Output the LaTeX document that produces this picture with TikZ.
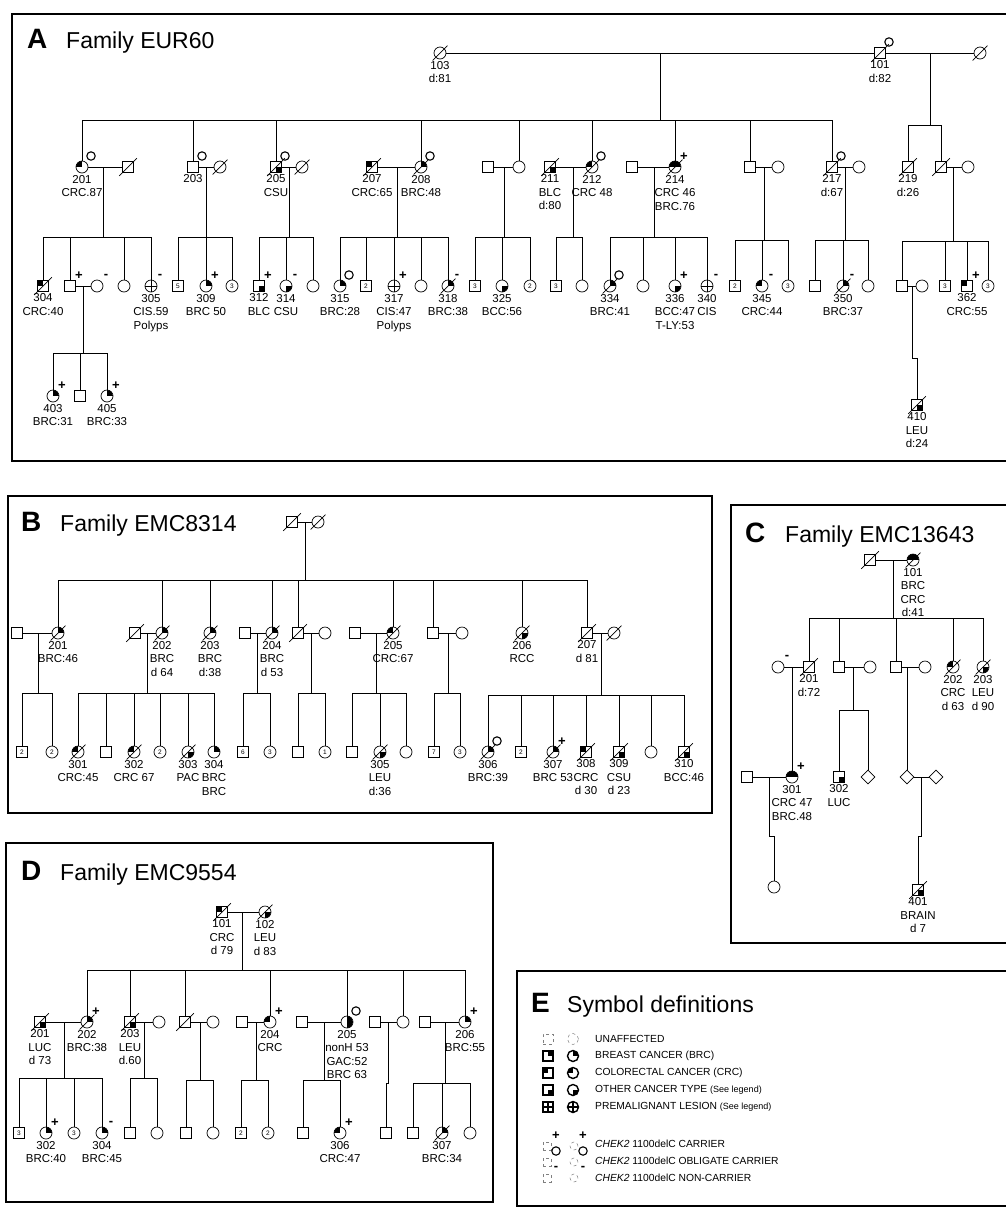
\documentclass[tikz,border=0pt]{standalone}
\usepackage{fontspec}
\setmainfont{Liberation Sans}
\usetikzlibrary{shapes.geometric,calc}
\tikzset{
 pl/.style={line width=0.7pt},
 boxl/.style={line width=1.3pt},
 sym/.style={draw, line width=0.7pt, inner sep=0pt, fill=white},
 msym/.style={sym, rectangle, minimum size=11pt},
 fsym/.style={sym, circle, minimum size=12pt},
 dsym/.style={sym, diamond, minimum size=14pt},
 brc/.style={path picture={\fill[black] (path picture bounding box.center) rectangle (path picture bounding box.north east);}},
 crc/.style={path picture={\fill[black] (path picture bounding box.center) rectangle (path picture bounding box.north west);}},
 oth/.style={path picture={\fill[black] (path picture bounding box.center) rectangle (path picture bounding box.south east);}},
 bc/.style={path picture={\fill[black] (path picture bounding box.west) rectangle (path picture bounding box.north east);}},
 rh/.style={path picture={\fill[black] (path picture bounding box.south) rectangle (path picture bounding box.north east);}},
 pre/.style={path picture={\draw[black] (path picture bounding box.north) -- (path picture bounding box.south) (path picture bounding box.west) -- (path picture bounding box.east);}},
 num/.style={label={[font=\fontsize{6.5}{7}\selectfont, inner sep=0pt]center:#1}},
 lbl/.style={font=\fontsize{11.5}{13.5}\selectfont, align=center, inner sep=0pt},
 mkf/.style={font=\fontsize{13}{13}\selectfont\bfseries, inner sep=0pt},
 ttl/.style={anchor=base west, font=\fontsize{23}{23}\selectfont, inner sep=0pt},
 ttb/.style={anchor=base west, font=\fontsize{28}{28}\selectfont\bfseries, inner sep=0pt},
 legt/.style={anchor=west, font=\fontsize{10.3}{11}\selectfont, inner sep=0pt},
 unaf/.style={draw=gray, dashed, line width=0.5pt},
 lgs/.style={line width=1.4pt},
}
\newcommand{\pedM}[4][]{\node[msym,#1] (#2) at (#3,#4) {};}
\newcommand{\pedF}[4][]{\node[fsym,#1] (#2) at (#3,#4) {};}
\newcommand{\pedD}[4][]{\node[dsym,#1] (#2) at (#3,#4) {};}
\newcommand{\dec}[1]{\draw[pl] ([shift={(-3,3)}]#1.south west) -- ([shift={(3,-3)}]#1.north east);}
\newcommand{\lab}[2]{\node[lbl,anchor=north] at ([yshift=-1.5pt]#1.south) {#2};}
\newcommand{\mkp}[1]{\node[mkf] at ([shift={(9,-10)}]#1.center) {+};}
\newcommand{\mkm}[1]{\node[mkf] at ([shift={(9,-10)}]#1.center) {-};}
\newcommand{\mko}[1]{\draw[line width=1.1pt] ([shift={(9,-11)}]#1.center) circle (4.2pt);}
\newcommand{\sibs}[4]{\coordinate (#2) at (#1 |- 0,#3);\draw[pl] (#1) -- (#2);\foreach \kid in {#4}{\draw[pl] (\kid.north) |- (#2);}}
\begin{document}
\begin{tikzpicture}[x=1pt,y=-1pt]
\fill[white] (0,0) rectangle (1005,1208);
\useasboundingbox (0,0) rectangle (1005,1208);
% ================= PANEL A =================
\draw[boxl] (1010,14) -- (12,14) -- (12,461) -- (1010,461);
\node[ttb] (tA) at (27,48) {A};
\node[ttl] (tAf) at (66,48) {Family EUR60};
\pedF{A103}{440}{53} \dec{A103} \lab{A103}{103\\d:81}
\pedM{A101}{880}{53} \dec{A101} \mko{A101} \lab{A101}{101\\d:82}
\pedF{A101w}{980}{53} \dec{A101w}
\draw[pl] (A103) -- (A101); \draw[pl] (A101) -- (A101w);
\coordinate (mA1) at (660,53); \coordinate (mA2) at (930,53);
% gen II
\pedF[crc]{A201}{82}{167} \mko{A201} \lab{A201}{201\\CRC.87}
\pedM{A201h}{128}{167} \dec{A201h}
\pedM{A203}{193}{167} \mko{A203} \lab{A203}{203}
\pedF{A203w}{220}{167} \dec{A203w}
\pedM[oth]{A205}{276}{167} \dec{A205} \mko{A205} \lab{A205}{205\\CSU}
\pedF{A205w}{302}{167} \dec{A205w}
\pedM[crc]{A207}{372}{167} \dec{A207} \lab{A207}{207\\CRC:65}
\pedF[brc]{A208}{421}{167} \dec{A208} \mko{A208} \lab{A208}{208\\BRC:48}
\pedM{A209}{488}{167}
\pedF{A210}{519}{167}
\pedM[oth]{A211}{550}{167} \dec{A211} \lab{A211}{211\\BLC\\d:80}
\pedF[crc]{A212}{592}{167} \dec{A212} \mko{A212} \lab{A212}{212\\CRC 48}
\pedM{A213}{632}{167}
\pedF[bc]{A214}{675}{167} \dec{A214} \mkp{A214} \lab{A214}{214\\CRC 46\\BRC.76}
\pedM{A215}{750}{167}
\pedF{A216}{778}{167}
\pedM{A217}{832}{167} \dec{A217} \mko{A217} \lab{A217}{217\\d:67}
\pedF{A217w}{859}{167}
\pedM{A219}{908}{167} \dec{A219} \lab{A219}{219\\d:26}
\pedM{A220}{941}{167} \dec{A220}
\pedF{A220w}{968}{167}
\foreach \a/\b in {A201/A201h,A203/A203w,A205/A205w,A207/A208,A209/A210,A211/A212,A213/A214,A215/A216,A217/A217w,A220/A220w}{\draw[pl] (\a) -- (\b);}
\sibs{mA1}{sA1}{120}{A201,A203,A205,A208,A210,A212,A214,A215,A217}
\sibs{mA2}{sA2}{125}{A219,A220}
% gen III
\pedM[crc]{A304}{43}{286} \dec{A304} \lab{A304}{304\\CRC:40}
\pedM{A302}{70}{286} \mkp{A302}
\pedF{A302w}{97}{286} \mkm{A302w}
\pedF{A303}{124}{286}
\pedF[pre]{A305}{151}{286} \mkm{A305} \lab{A305}{305\\CIS.59\\Polyps}
\draw[pl] (A302) -- (A302w);
\coordinate (mA201) at (103,167); \sibs{mA201}{sA201}{237}{A304,A302,A303,A305}
\pedM[num=5]{A306}{178}{286}
\pedF[brc]{A309}{206}{286} \mkp{A309} \lab{A309}{309\\BRC 50}
\pedF[num=3]{A310}{232}{286}
\coordinate (mA203) at (206,167); \sibs{mA203}{sA203}{237}{A306,A309,A310}
\pedM[oth]{A312}{259}{286} \mkp{A312} \lab{A312}{312\\BLC}
\pedF[oth]{A314}{286}{286} \mkm{A314} \lab{A314}{314\\CSU}
\pedF{A313}{313}{286}
\coordinate (mA205) at (289,167); \sibs{mA205}{sA205}{237}{A312,A314,A313}
\pedF[brc]{A315}{340}{286} \mko{A315} \lab{A315}{315\\BRC:28}
\pedM[num=2]{A316}{366}{286}
\pedF[pre]{A317}{394}{286} \mkp{A317} \lab{A317}{317\\CIS:47\\Polyps}
\pedF{A319}{421}{286}
\pedF[brc]{A318}{448}{286} \dec{A318} \mkm{A318} \lab{A318}{318\\BRC:38}
\coordinate (mA207) at (397,167); \sibs{mA207}{sA207}{237}{A315,A316,A317,A319,A318}
\pedM[num=3]{A321}{475}{286}
\pedF[oth]{A325}{502}{286} \lab{A325}{325\\BCC:56}
\pedF[num=2]{A326}{530}{286}
\coordinate (mA209) at (504,167); \sibs{mA209}{sA209}{237}{A321,A325,A326}
\pedM[num=3]{A327}{556}{286}
\pedF{A328}{582}{286}
\coordinate (mA211) at (573,167); \sibs{mA211}{sA211}{237}{A327,A328}
\pedF[brc]{A334}{610}{286} \dec{A334} \mko{A334} \lab{A334}{334\\BRC:41}
\pedF{A335}{643}{286}
\pedF[oth]{A336}{675}{286} \mkp{A336} \lab{A336}{336\\BCC:47\\T-LY:53}
\pedF[pre]{A340}{707}{286} \mkm{A340} \lab{A340}{340\\CIS}
\coordinate (mA214) at (654,167); \sibs{mA214}{sA214}{237}{A334,A335,A336,A340}
\pedM[num=2]{A344}{735}{286}
\pedF[crc]{A345}{762}{286} \mkm{A345} \lab{A345}{345\\CRC:44}
\pedF[num=3]{A346}{788}{286}
\coordinate (mA215) at (764,167); \sibs{mA215}{sA215}{240}{A344,A345,A346}
\pedM{A349}{815}{286}
\pedF[brc]{A350}{843}{286} \dec{A350} \mkm{A350} \lab{A350}{350\\BRC:37}
\pedF{A351}{868}{286}
\coordinate (mA217) at (845,167); \sibs{mA217}{sA217}{240}{A349,A350,A351}
\pedM{A360}{902}{286}
\pedF{A360w}{922}{286}
\pedM[num=3]{A361}{945}{286}
\pedM[crc]{A362}{967}{286} \mkp{A362} \lab{A362}{362\\CRC:55}
\pedF[num=3]{A363}{988}{286}
\draw[pl] (A360) -- (A360w);
\coordinate (mA220) at (953,167); \sibs{mA220}{sA220}{241}{A360,A361,A362,A363}
\pedM[oth]{A410}{917}{405} \dec{A410} \lab{A410}{410\\LEU\\d:24}
\coordinate (mA360) at (912,286); \coordinate (jA1) at (912,358); \coordinate (jA2) at (917,358);
\draw[pl] (mA360) -- (jA1) -- (jA2) -- (A410.north);
% gen IV
\pedF[brc]{A403}{53}{396} \mkp{A403} \lab{A403}{403\\BRC:31}
\pedM{A404}{80}{396}
\pedF[brc]{A405}{107}{396} \mkp{A405} \lab{A405}{405\\BRC:33}
\coordinate (mA302) at (83,286); \sibs{mA302}{sA302}{353}{A403,A404,A405}
% ================= PANEL B =================
\draw[boxl] (8,496) rectangle (712,813);
\node[ttb] (tB) at (21,531) {B};
\node[ttl] (tBf) at (60,531) {Family EMC8314};
\pedM{B1}{292}{522} \dec{B1}
\pedF{B2}{318}{522} \dec{B2}
\draw[pl] (B1) -- (B2);
\coordinate (mB1) at (305,522);
\pedM{B201h}{17}{633}
\pedF[brc]{B201}{58}{633} \dec{B201} \lab{B201}{201\\BRC:46}
\pedM{B202h}{135}{633} \dec{B202h}
\pedF[brc]{B202}{162}{633} \dec{B202} \lab{B202}{202\\BRC\\d 64}
\pedF[brc]{B203}{210}{633} \dec{B203} \lab{B203}{203\\BRC\\d:38}
\pedM{B204h}{245}{633}
\pedF[brc]{B204}{272}{633} \dec{B204} \lab{B204}{204\\BRC\\d 53}
\pedM{B20a}{298}{633} \dec{B20a}
\pedF{B20aw}{325}{633}
\pedM{B205h}{355}{633}
\pedF[crc]{B205}{393}{633} \dec{B205} \lab{B205}{205\\CRC:67}
\pedM{B20b}{433}{633}
\pedF{B20bw}{462}{633}
\pedF[oth]{B206}{522}{633} \dec{B206} \lab{B206}{206\\RCC}
\pedM{B207}{587}{633} \dec{B207} \lab{B207}{207\\d 81}
\pedF{B207w}{614}{633} \dec{B207w}
\foreach \a/\b in {B201h/B201,B202h/B202,B204h/B204,B20a/B20aw,B205h/B205,B20b/B20bw,B207/B207w}{\draw[pl] (\a) -- (\b);}
\sibs{mB1}{sB1}{580}{B201,B202,B203,B204,B20a,B205,B20b,B206,B207}
\pedM[num=2]{B30a}{22}{752} \pedF[num=2]{B30b}{52}{752}
\coordinate (mB201) at (38,633); \sibs{mB201}{sB201}{693}{B30a,B30b}
\pedF[crc]{B301}{78}{752} \dec{B301} \lab{B301}{301\\CRC:45}
\pedM{B30c}{106}{752}
\pedF[crc]{B302}{134}{752} \dec{B302} \lab{B302}{302\\CRC 67}
\pedF[num=2]{B30d}{160}{752}
\pedF[oth]{B303}{188}{752} \dec{B303} \lab{B303}{303\\PAC}
\pedF[brc]{B304}{214}{752} \lab{B304}{304\\BRC\\BRC}
\coordinate (mB202) at (147,633); \sibs{mB202}{sB202}{693}{B301,B30c,B302,B30d,B303,B304}
\pedM[num=6]{B30e}{243}{752} \pedF[num=3]{B30f}{270}{752}
\coordinate (mB204) at (257,633); \sibs{mB204}{sB204}{693}{B30e,B30f}
\pedM{B30g}{298}{752} \pedF[num=1]{B30h}{325}{752}
\coordinate (mB20a) at (311,633); \sibs{mB20a}{sB20a}{693}{B30g,B30h}
\pedM{B30i}{352}{752}
\pedF[oth]{B305}{380}{752} \dec{B305} \lab{B305}{305\\LEU\\d:36}
\pedF{B30j}{406}{752}
\coordinate (mB205) at (376,633); \sibs{mB205}{sB205}{693}{B30i,B305,B30j}
\pedM[num=7]{B30k}{434}{752} \pedF[num=3]{B30l}{460}{752}
\coordinate (mB20b) at (448,633); \sibs{mB20b}{sB20b}{693}{B30k,B30l}
\pedF[brc]{B306}{488}{752} \dec{B306} \mko{B306} \lab{B306}{306\\BRC:39}
\pedM[num=2]{B30m}{521}{752}
\pedF[brc]{B307}{553}{752} \dec{B307} \mkp{B307} \lab{B307}{307\\BRC 53}
\pedM[crc]{B308}{586}{752} \dec{B308} \lab{B308}{308\\CRC\\d 30}
\pedM[oth]{B309}{619}{752} \dec{B309} \lab{B309}{309\\CSU\\d 23}
\pedF{B30n}{651}{752}
\pedM[oth]{B310}{684}{752} \dec{B310} \lab{B310}{310\\BCC:46}
\coordinate (mB207) at (601,633); \sibs{mB207}{sB207}{695}{B306,B30m,B307,B308,B309,B30n,B310}
% ================= PANEL C =================
\draw[boxl] (1010,505) -- (731,505) -- (731,943) -- (1010,943);
\node[ttb] (tC) at (745,542) {C};
\node[ttl] (tCf) at (785,542) {Family EMC13643};
\pedM{C1}{870}{560} \dec{C1}
\pedF[bc]{C101}{913}{560} \dec{C101} \lab{C101}{101\\BRC\\CRC\\d:41}
\draw[pl] (C1) -- (C101);
\coordinate (mC1) at (893,560);
\pedF{C201w}{778}{667} \mkm{C201w}
\pedM{C201}{809}{667} \dec{C201} \lab{C201}{201\\d:72}
\pedM{C2h}{839}{667} \pedF{C2w}{870}{667}
\pedM{C3h}{896}{667} \pedF{C3w}{925}{667}
\pedF[crc]{C202}{953}{667} \dec{C202} \lab{C202}{202\\CRC\\d 63}
\pedF[oth]{C203}{983}{667} \dec{C203} \lab{C203}{203\\LEU\\d 90}
\foreach \a/\b in {C201w/C201,C2h/C2w,C3h/C3w}{\draw[pl] (\a) -- (\b);}
\sibs{mC1}{sC1}{618}{C201,C2h,C3h,C202,C203}
\pedM{C301h}{747}{777}
\pedF[bc]{C301}{792}{777} \mkp{C301} \lab{C301}{301\\CRC 47\\BRC.48}
\draw[pl] (C301h) -- (C301);
\coordinate (mC201) at (792,667); \draw[pl] (mC201) -- (C301.north);
\pedM[oth]{C302}{839}{777} \lab{C302}{302\\LUC}
\pedD{C302d}{868}{777}
\coordinate (mC2) at (853,667); \sibs{mC2}{sC2}{710}{C302,C302d}
\pedD{C3d}{907}{777} \pedD{C3dw}{936}{777}
\draw[pl] (C3d) -- (C3dw);
\coordinate (mC3) at (907,667); \draw[pl] (mC3) -- (C3d.north);
\pedF{C4c}{774}{887}
\coordinate (mC301) at (769,777); \coordinate (jC1) at (769,836); \coordinate (jC2) at (774,836);
\draw[pl] (mC301) -- (jC1) -- (jC2) -- (C4c.north);
\pedM[oth]{C401}{918}{890} \dec{C401} \lab{C401}{401\\BRAIN\\d 7}
\coordinate (mC3d) at (921,777); \coordinate (jC3) at (921,836); \coordinate (jC4) at (918,836);
\draw[pl] (mC3d) -- (jC3) -- (jC4) -- (C401.north);
% ================= PANEL D =================
\draw[boxl] (6,843) rectangle (493,1202);
\node[ttb] (tD) at (21,880) {D};
\node[ttl] (tDf) at (60,880) {Family EMC9554};
\pedM[crc]{D101}{222}{912} \dec{D101} \lab{D101}{101\\CRC\\d 79}
\pedF[oth]{D102}{265}{912} \dec{D102} \lab{D102}{102\\LEU\\d 83}
\draw[pl] (D101) -- (D102);
\coordinate (mD1) at (242,912);
\pedM[oth]{D201}{40}{1022} \dec{D201} \lab{D201}{201\\LUC\\d 73}
\pedF[brc]{D202}{87}{1022} \dec{D202} \mkp{D202} \lab{D202}{202\\BRC:38}
\pedM[oth]{D203}{130}{1022} \dec{D203} \lab{D203}{203\\LEU\\d.60}
\pedF{D203w}{159}{1022}
\pedM{D3h}{185}{1022} \dec{D3h}
\pedF{D3w}{213}{1022}
\pedM{D204h}{242}{1022}
\pedF[crc]{D204}{270}{1022} \mkp{D204} \lab{D204}{204\\CRC}
\pedM{D205h}{302}{1022}
\pedF[rh]{D205}{347}{1022} \mko{D205} \lab{D205}{205\\nonH 53\\GAC:52\\BRC 63}
\pedM{D6h}{375}{1022} \pedF{D6w}{403}{1022}
\pedM{D206h}{425}{1022}
\pedF[brc]{D206}{465}{1022} \mkp{D206} \lab{D206}{206\\BRC:55}
\foreach \a/\b in {D201/D202,D203/D203w,D3h/D3w,D204h/D204,D205h/D205,D6h/D6w,D206h/D206}{\draw[pl] (\a) -- (\b);}
\sibs{mD1}{sD1}{970}{D202,D203,D3h,D204,D205,D6w,D206}
\pedM[num=3]{D30a}{19}{1133}
\pedF[brc]{D302}{46}{1133} \mkp{D302} \lab{D302}{302\\BRC:40}
\pedF[num=3]{D30b}{74}{1133}
\pedF[brc]{D304}{102}{1133} \mkm{D304} \lab{D304}{304\\BRC:45}
\coordinate (mD201) at (64,1022); \sibs{mD201}{sD201}{1078}{D30a,D302,D30b,D304}
\pedM{D30c}{130}{1133} \pedF{D30d}{157}{1133}
\coordinate (mD203) at (144,1022); \sibs{mD203}{sD203}{1078}{D30c,D30d}
\pedM{D30e}{186}{1133} \pedF{D30f}{213}{1133}
\coordinate (mD3) at (200,1022); \sibs{mD3}{sD3}{1080}{D30e,D30f}
\pedM[num=2]{D30g}{241}{1133} \pedF[num=2]{D30h}{268}{1133}
\coordinate (mD204) at (256,1022); \sibs{mD204}{sD204}{1080}{D30g,D30h}
\pedM{D30i}{303}{1133}
\pedF[crc]{D306}{340}{1133} \mkp{D306} \lab{D306}{306\\CRC:47}
\coordinate (mD205) at (324,1022); \sibs{mD205}{sD205}{1080}{D30i,D306}
\pedM{D30j}{386}{1133}
\coordinate (mD6) at (388,1022); \coordinate (jD1) at (388,1083); \coordinate (jD2) at (386,1083);
\draw[pl] (mD6) -- (jD1) -- (jD2) -- (D30j.north);
\pedM{D30k}{413}{1133}
\pedF[brc]{D307}{442}{1133} \dec{D307} \lab{D307}{307\\BRC:34}
\pedF{D30l}{470}{1133}
\coordinate (mD206) at (445,1022); \sibs{mD206}{sD206}{1083}{D30k,D307,D30l}
% ================= PANEL E =================
\draw[boxl] (1010,971) -- (517,971) -- (517,1206) -- (1010,1206);
\node[ttb] (tE) at (531,1012) {E};
\node[ttl] (tEf) at (567,1012) {Symbol definitions};
\node[msym, minimum size=10pt, unaf] (Eu1) at (548,1039) {};
\node[fsym, minimum size=11pt, unaf] (Eu2) at (573,1039) {};
\node[legt] (Et1) at (595,1039) {UNAFFECTED};
\node[msym, minimum size=10pt, lgs, brc] (Eb1) at (548,1056) {};
\node[fsym, minimum size=11pt, lgs, brc] (Eb2) at (573,1056) {};
\node[legt] (Et2) at (595,1056) {BREAST CANCER (BRC)};
\node[msym, minimum size=10pt, lgs, crc] (Ec1) at (548,1073) {};
\node[fsym, minimum size=11pt, lgs, crc] (Ec2) at (573,1073) {};
\node[legt] (Et3) at (595,1073) {COLORECTAL CANCER (CRC)};
\node[msym, minimum size=10pt, lgs, oth] (Eo1) at (548,1090) {};
\node[fsym, minimum size=11pt, lgs, oth] (Eo2) at (573,1090) {};
\node[legt] (Et4) at (595,1090) {OTHER CANCER TYPE {\fontsize{9}{10}\selectfont(See legend)}};
\node[msym, minimum size=10pt, lgs, pre] (Ep1) at (548,1107) {};
\node[fsym, minimum size=11pt, lgs, pre] (Ep2) at (573,1107) {};
\node[legt] (Et5) at (595,1107) {PREMALIGNANT LESION {\fontsize{9}{10}\selectfont(See legend)}};
\node[msym, minimum size=8pt, unaf] (Ek1) at (547,1146) {};
\node[fsym, minimum size=8pt, unaf] (Ek2) at (574,1146) {};
\mkp{Ek1} \mkp{Ek2}
\node[legt] (Et6) at (595,1144) {\textit{CHEK2} 1100delC CARRIER};
\node[msym, minimum size=8pt, unaf] (Ek3) at (547,1162) {};
\node[fsym, minimum size=8pt, unaf] (Ek4) at (574,1162) {};
\mko{Ek3} \mko{Ek4}
\node[legt] (Et7) at (595,1161) {\textit{CHEK2} 1100delC OBLIGATE CARRIER};
\node[msym, minimum size=8pt, unaf] (Ek5) at (547,1178) {};
\node[fsym, minimum size=8pt, unaf] (Ek6) at (574,1178) {};
\mkm{Ek5} \mkm{Ek6}
\node[legt] (Et8) at (595,1178) {\textit{CHEK2} 1100delC NON-CARRIER};
\end{tikzpicture}
\end{document}
